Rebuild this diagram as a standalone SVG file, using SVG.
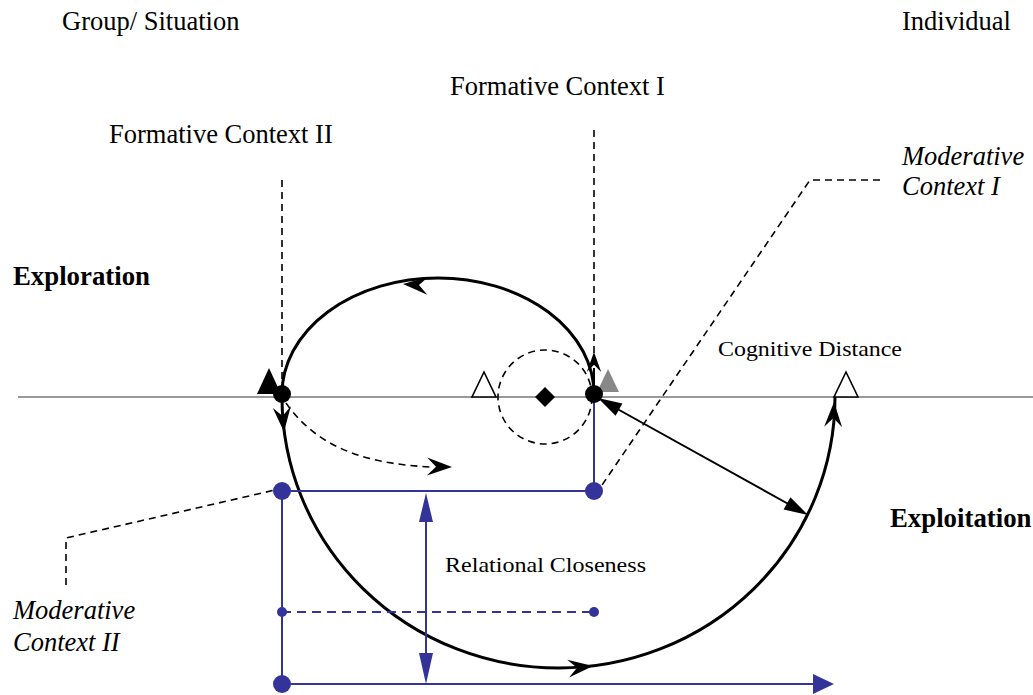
<svg xmlns="http://www.w3.org/2000/svg" width="1033" height="695" viewBox="0 0 1033 695">
  <style>
    text { font-family: "Liberation Serif", "Times New Roman", serif; font-size: 26.5px; fill: #000; }
    .it { font-style: italic; }
    .bd { font-weight: bold; font-size: 26.8px; }
    .sm { font-size: 21.5px; }
    .curve { fill: none; stroke: #000; stroke-width: 3; }
    .dash { fill: none; stroke: #000; stroke-width: 1.6; stroke-dasharray: 7 5; }
    .blue { fill: none; stroke: #333399; stroke-width: 2; }
    .bluedash { fill: none; stroke: #333399; stroke-width: 2; stroke-dasharray: 9 6; }
    .bfill { fill: #333399; }
  </style>
  <defs>
    <!-- barbed arrowhead, tip at origin pointing +x -->
    <path id="barb" d="M0,0 L-25,-9 L-16,0 L-25,9 Z" fill="#000"/>
    <path id="tri" d="M0,0 L-24,-7 L-24,7 Z" fill="#000"/>
  </defs>

  <!-- axis -->
  <line x1="18" y1="397" x2="1033" y2="397" stroke="#999" stroke-width="2"/>

  <!-- labels -->
  <g id="labels">
    <text x="62" y="30">Group/ Situation</text>
    <text x="902" y="30">Individual</text>
    <text x="450" y="95">Formative Context I</text>
    <text x="109" y="143">Formative Context II</text>
    <text class="it" x="902" y="165">Moderative</text>
    <text class="it" x="902" y="195">Context I</text>
    <text class="bd" x="13" y="285">Exploration</text>
    <text class="sm" x="718" y="356" textLength="184" lengthAdjust="spacingAndGlyphs">Cognitive Distance</text>
    <text class="bd" x="890" y="527">Exploitation</text>
    <text class="sm" x="445" y="572" textLength="201" lengthAdjust="spacingAndGlyphs">Relational Closeness</text>
    <text class="it" x="13" y="619">Moderative</text>
    <text class="it" x="13" y="651">Context II</text>
  </g>

  <g id="connectors">
    <!-- context leader lines -->
    <line class="dash" x1="282" y1="180" x2="282" y2="390"/>
    <line class="dash" x1="594" y1="130" x2="594" y2="356"/>
    <polyline class="dash" points="880,180 810,180 600,488"/>
    <polyline class="dash" points="66,585 66,538 275,490"/>

    <!-- exploration loop -->
    <path class="curve" d="M282,394 A156 116 0 0 1 594,394"/>
    <use href="#barb" transform="translate(403,284) rotate(184)"/>

    <!-- exploitation loop -->
    <path class="curve" d="M282,397 A276.5 271 0 0 0 558.5,668 A276.5 271 0 0 0 835,397"/>
    <use href="#barb" transform="translate(284,432) rotate(85)"/>
    <use href="#barb" transform="translate(593,666) rotate(-6)"/>
    <use href="#barb" transform="translate(834,402) rotate(-88)"/>

    <!-- dashed path to lower region -->
    <path class="dash" d="M286,403 C320,452 375,464 430,467"/>
    <use href="#barb" transform="translate(452,467) rotate(1)"/>

    <!-- upward arrow at formative context I -->
    <line x1="594" y1="392" x2="594" y2="368" stroke="#000" stroke-width="2"/>
    <use href="#barb" transform="translate(594,352) rotate(-90) scale(0.8)"/>

    <!-- cognitive distance double arrow -->
    <line x1="612" y1="406" x2="792" y2="506" stroke="#000" stroke-width="2"/>
    <use href="#tri" transform="translate(598,398) rotate(209)"/>
    <use href="#tri" transform="translate(808,515) rotate(29)"/>

    <!-- blue relational structure -->
    <line class="blue" x1="282" y1="491" x2="594" y2="491"/>
    <line class="blue" x1="594" y1="397" x2="594" y2="491"/>
    <line class="blue" x1="282" y1="491" x2="282" y2="684"/>
    <line class="bluedash" x1="282" y1="612" x2="594" y2="612"/>
    <line class="blue" x1="282" y1="684" x2="815" y2="684"/>
    <path class="bfill" d="M834,684 L813,674 L813,694 Z"/>
    <line class="blue" x1="426" y1="515" x2="426" y2="660"/>
    <path class="bfill" d="M426,493 L419,522 L433,522 Z"/>
    <path class="bfill" d="M426,684 L419,653 L433,653 Z"/>
  </g>

  <!-- markers on the axis -->
  <g id="axis-markers">
    <path d="M484,372 L472,397 L496,397 Z" fill="#fff" stroke="#000" stroke-width="1.6"/>
    <path d="M846,372 L834,397 L858,397 Z" fill="#fff" stroke="#000" stroke-width="1.6"/>
    <path d="M269,368 L257,394 L281,394 Z" fill="#000"/>
    <path d="M608,369 L597,392 L619,392 Z" fill="#888"/>
    <circle cx="545" cy="397" r="47" class="dash"/>
    <path d="M545,387 L555,397 L545,407 L535,397 Z" fill="#000"/>
  </g>

  <g id="node-left">
    <circle cx="282" cy="394" r="9" fill="#000"/>
  </g>
  <g id="node-right">
    <circle cx="594" cy="394" r="9" fill="#000"/>
  </g>
  <g id="blue-nodes">
    <circle cx="282" cy="491" r="9" class="bfill"/>
    <circle cx="594" cy="491" r="9" class="bfill"/>
    <circle cx="282" cy="684" r="9" class="bfill"/>
    <circle cx="282" cy="612" r="5" class="bfill"/>
    <circle cx="594" cy="612" r="5" class="bfill"/>
  </g>
</svg>
